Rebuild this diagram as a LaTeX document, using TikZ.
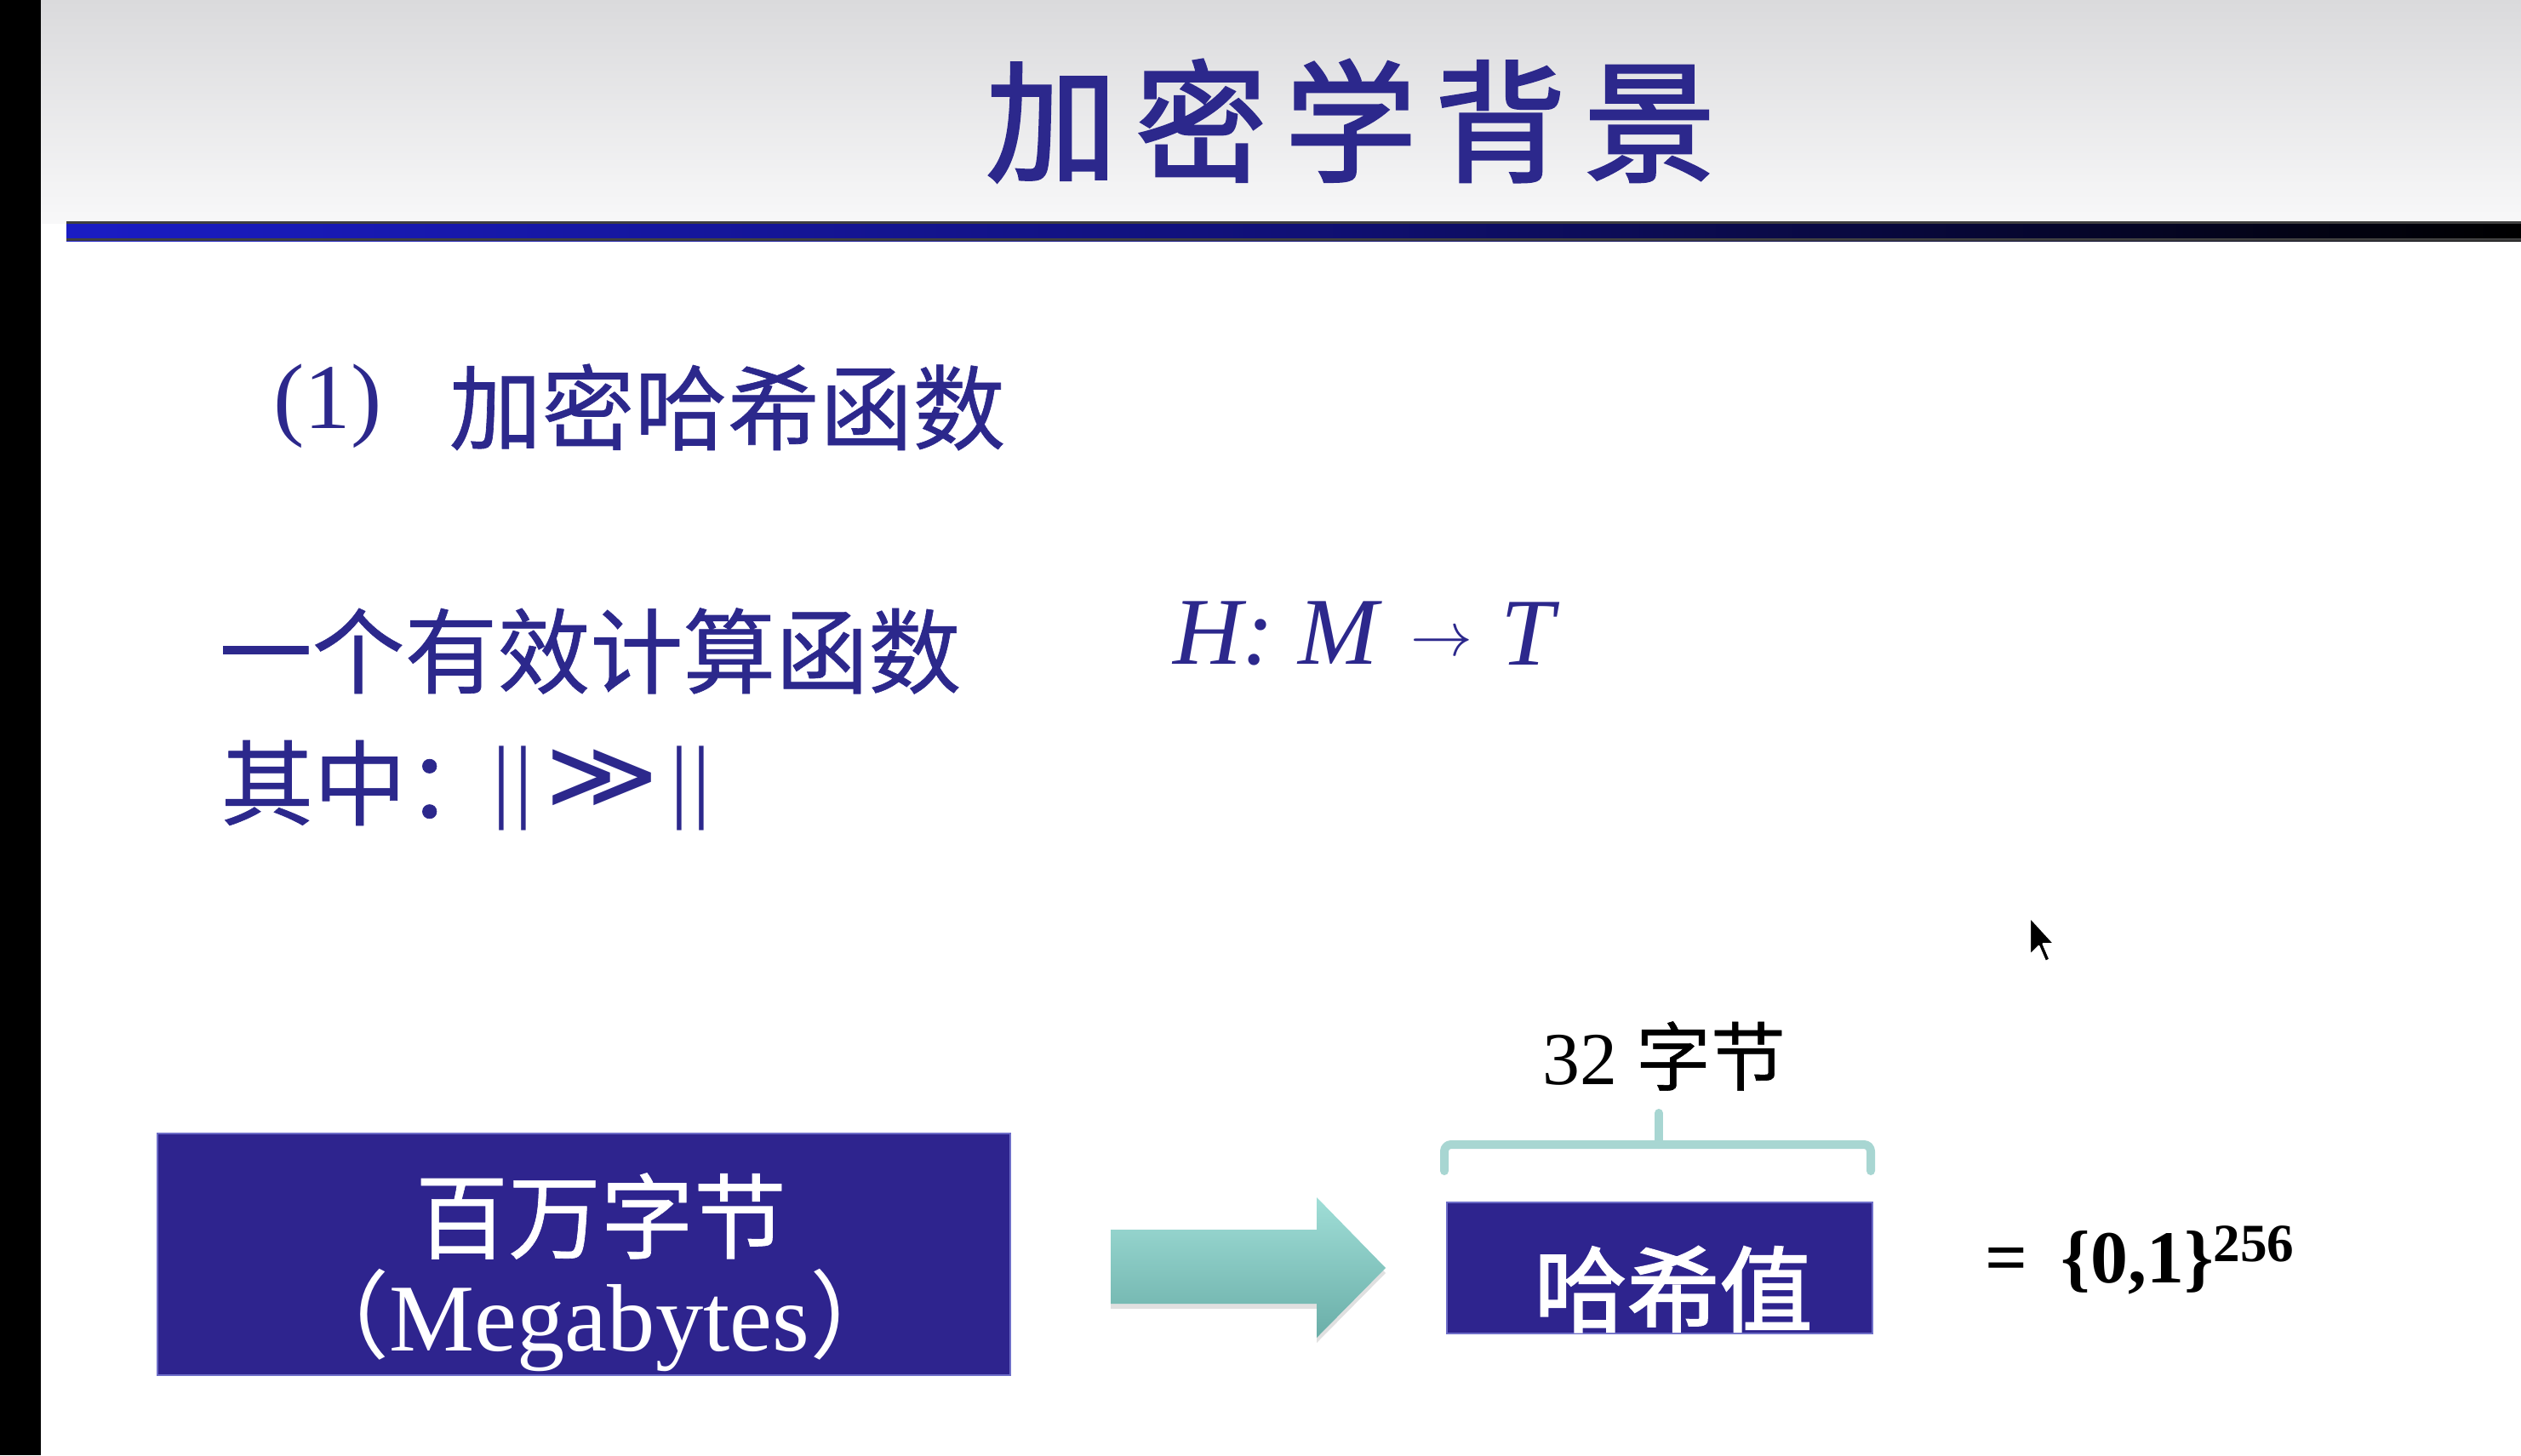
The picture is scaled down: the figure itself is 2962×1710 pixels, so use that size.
\documentclass[tikz,border=0pt]{standalone}
\usepackage{fontspec}
\setmainfont{Liberation Serif}
\newfontfamily\cjk{Noto Sans CJK SC}
\newfontfamily\cjkmid[FakeBold=0.6]{Noto Sans CJK SC}
\newfontfamily\cjkheavy[FakeBold=2]{Noto Sans CJK SC}
\newfontfamily\dejavusym{DejaVu Sans}

\definecolor{ink}{RGB}{44,40,140}
\definecolor{boxfill}{RGB}{46,36,142}
\definecolor{boxedge}{RGB}{110,110,200}
\definecolor{headtop}{RGB}{218,218,220}
\definecolor{headbot}{RGB}{248,248,249}
\definecolor{rulel}{RGB}{26,28,196}
\definecolor{rulem}{RGB}{16,16,118}
\definecolor{tealtop}{RGB}{160,222,215}
\definecolor{tealbot}{RGB}{106,174,168}
\definecolor{bracecol}{RGB}{168,214,210}

\begin{document}
\begin{tikzpicture}[x=0.1mm,y=-0.1mm,
  txt/.style={inner sep=0pt, outer sep=0pt, text=ink},
  cjkbody/.style={txt, font=\cjkmid\fontsize{31}{31}\selectfont},
  serifbody/.style={txt, font=\fontsize{31}{31}\selectfont},
  mathit/.style={txt, font=\itshape\fontsize{32}{32}\selectfont},
  hashbox/.style={fill=boxfill, draw=boxedge, line width=0.5pt, inner sep=0pt},
  intext/.style={txt, text=white},
  bracestyle/.style={draw=bracecol, line width=2.85pt, line cap=round, line join=round, rounded corners=0.8mm},
]
\useasboundingbox (0,0) rectangle (2962,1710);

% page background, header band and left margin
\fill[white] (0,0) rectangle (2962,1710);
\shade[top color=headtop, bottom color=headbot] (48,0) rectangle (2962,262);
\fill[black] (0,0) rectangle (48,1710);

% title rule
\shade[left color=rulel, right color=black, middle color=rulem] (78,260) rectangle (2962,283);
\draw[black!75, line width=0.9pt] (78,261.5) -- (2962,261.5);
\draw[black!75, line width=0.9pt] (78,281.5) -- (2962,281.5);

% title
\node[txt, font=\cjkheavy\fontsize{44}{44}\selectfont] (title) at (1587,142)
  {加\hspace{6pt}密\hspace{6pt}学\hspace{6pt}背\hspace{6pt}景};

% section heading
\node[serifbody] (secnum) at (385,477) {(1)};
\node[cjkbody] (sec) at (854.5,478.5) {加密哈希函数};

% definition lines
\node[cjkbody] (def) at (693.5,765) {一个有效计算函数};
\node[mathit] (hm) at (1499,744.5) {H: M};
\node[txt, font=\fontsize{20}{20}\selectfont] (maps) at (1694,757) {$\rightarrow$};
\node[mathit] (tt) at (1794.5,744.5) {T};

\node[cjkbody] (where) at (423,920) {其中：};
\node[serifbody] (barl) at (602,926) {|\kern1.2pt|};
\node[txt, font=\dejavusym\bfseries\fontsize{27}{27}\selectfont] (gg) at (708,913.5) {\scalebox{1.35}[1]{≫}};
\node[serifbody] (barr) at (811.5,926) {|\kern1.2pt|};

% message block
\node[hashbox, minimum width=100.2mm, minimum height=28.4mm] (megabox) at (686,1474) {};
\node[intext, font=\cjkmid\fontsize{31}{31}\selectfont] (mega) at (706,1429) {百万字节};
\node[intext, anchor=base, font=\fontsize{32}{32}\selectfont] (megaen) at (704.5,1587)
  {{\cjk （}Megabytes{\cjk ）}};

% block arrow with a soft shadow
\fill[black, opacity=0.12] (1305,1451) -- (1547,1451) -- (1547,1413) -- (1628,1496)
  -- (1547,1578) -- (1547,1538) -- (1305,1538) -- cycle;
\shade[top color=tealtop, bottom color=tealbot] (1305,1445) -- (1547,1445) -- (1547,1407)
  -- (1628,1490) -- (1547,1572) -- (1547,1532) -- (1305,1532) -- cycle;

% digest block
\node[hashbox, minimum width=50mm, minimum height=15.4mm] (hashbox) at (1950,1490) {};
\node[intext, font=\cjkheavy\fontsize{31}{31}\selectfont] (hashtxt) at (1966,1515) {哈希值};

% bracket over the digest
\coordinate (brl) at (1697,1376);
\coordinate (brr) at (2198,1376);
\coordinate (brm) at (1949,1345);
\coordinate (brt) at (1949,1308);
\draw[bracestyle] (brl) -- (1697,1345) -- (2198,1345) -- (brr);
\draw[bracestyle] (brm) -- (brt);
\node[txt, text=black, font=\fontsize{25}{25}\selectfont] (len) at (1955,1241) {32 {\cjkmid 字节}};

% digest space
\node[txt, text=black, anchor=base west, font=\bfseries\fontsize{25}{25}\selectfont] (range) at (2332,1507)
  {=\hspace{0.45em}\{0,1\}\raisebox{7pt}{\fontsize{18}{18}\selectfont 256}};

% mouse pointer
\filldraw[fill=black, draw=white, line width=0.6pt, line join=round]
  (2385,1078) -- (2385,1122.2) -- (2395.4,1111.8) -- (2403.2,1130) -- (2408.4,1127.4)
  -- (2400.6,1109.2) -- (2413.6,1109.2) -- cycle;
\end{tikzpicture}
\end{document}
